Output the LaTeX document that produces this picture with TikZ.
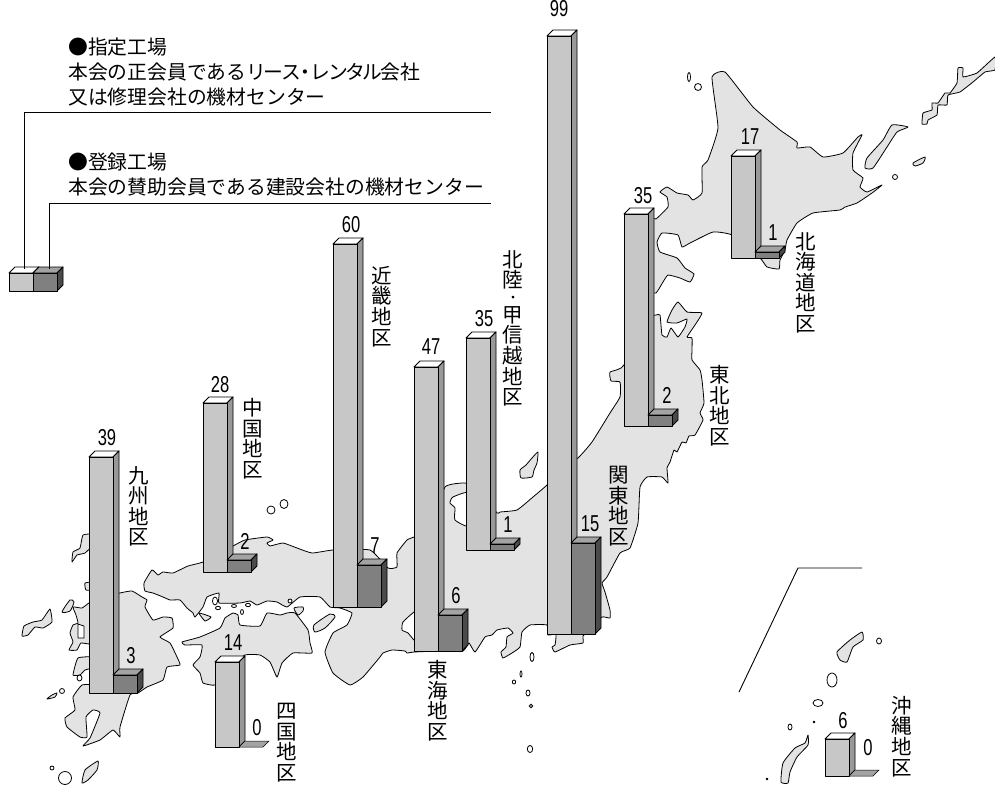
\documentclass[tikz,border=0pt]{standalone}
\usepackage{fontspec}
\newfontfamily\jpf{Noto Sans CJK JP}
\newfontfamily\numf[FakeStretch=0.72]{Liberation Sans}
\definecolor{land}{gray}{0.89}
\definecolor{lfront}{gray}{0.78}
\definecolor{lside}{gray}{0.6}
\definecolor{dfront}{gray}{0.5}
\definecolor{dside}{gray}{0.29}
\definecolor{dtop}{gray}{0.64}
\newcommand\tk{\hspace{-2.4pt}}
\tikzset{
  coast/.style={fill=land,draw=black,line width=0.8pt,line join=round},
  bay/.style={fill=white,draw=black,line width=0.8pt,line join=round},
  islet/.style={fill=white,draw=black,line width=0.8pt},
  barline/.style={draw=black,line width=0.9pt,line join=round},
  leader/.style={draw=black,line width=0.9pt},
  numlabel/.style={inner sep=0pt,font=\numf\fontsize{23}{24}\selectfont},
  vlabel/.style={inner sep=0pt,anchor=north,align=center,font=\jpf\fontsize{20.5}{20.6}\selectfont},
  legendtext/.style={inner sep=0pt,anchor=west,font=\jpf\fontsize{19.8}{24}\selectfont}
}
\newcommand\lightbar[3]{%
  \filldraw[barline,fill=white] (#1,#2) -- (#1+6,#2-6) -- (#1+30,#2-6) -- (#1+24,#2) -- cycle;
  \filldraw[barline,fill=lside] (#1+24,#2) -- (#1+30,#2-6) -- (#1+30,#3-6) -- (#1+24,#3) -- cycle;
  \filldraw[barline,fill=lfront] (#1,#2) rectangle (#1+24,#3);}
\newcommand\darkbar[3]{%
  \filldraw[barline,fill=dtop] (#1,#2) -- (#1+6,#2-6) -- (#1+30,#2-6) -- (#1+24,#2) -- cycle;
  \filldraw[barline,fill=dside] (#1+24,#2) -- (#1+30,#2-6) -- (#1+30,#3-6) -- (#1+24,#3) -- cycle;
  \filldraw[barline,fill=dfront] (#1,#2) rectangle (#1+24,#3);}
\newcommand\zerobar[2]{%
  \filldraw[draw=black,line width=0.5pt,fill=dtop] (#1,#2) -- (#1+6,#2-6) -- (#1+30,#2-6) -- (#1+24,#2) -- cycle;}
\begin{document}
\begin{tikzpicture}[x=1pt,y=-1pt]
\useasboundingbox (0,0) rectangle (995,786);
\fill[white] (0,0) rectangle (995,786);
% Honshu + Hokkaido
\draw[coast] plot[smooth cycle,tension=0.25] coordinates {
(144,583)(152,570)(158,575)(163,572)(173,573)(188,566)(203,562)(233,546)(245,540)(267,537)(273,540)(267,543)(270,546)(283,543)(297,548)(312,553)(333,550)(370,550)(388,568)(397,567)(397,553)(407,540)(414,537)(430,530)(445,487)(465,483)(480,490)(497,513)(500,512)(517,510)(533,497)(547,485)(560,470)(578,458)(592,442)(610,413)(620,397)(620,382)(611,381)(610,372)(624,365)(640,300)(650,220)
(656,219)(668,207)(667,197)(660,192)(667,187)(677,193)(688,195)(693,200)(702,193)(702,167)(708,160)(718,128)(712,77)(725,72)(753,107)(780,130)(797,142)(797,148)(810,147)(823,157)(843,153)(858,137)(862,135)(853,153)(853,170)(863,178)(860,187)(867,192)(882,185)(872,193)(857,203)(845,207)(840,210)(813,213)(797,223)(787,240)(785,250)(780,260)(779,269)(767,267)(760,258)(732,235)(713,232)(690,243)(682,247)(678,235)(662,233)(657,242)(660,252)(677,258)(685,268)(694,274)(690,282)(680,278)(668,275)(663,282)(656,293)(645,293)(645,315)(656,315)(660,315)(662,335)(667,337)(671,328)(678,337)(685,327)(687,319)(677,323)(667,322)(672,310)(678,302)(687,312)(702,313)(695,325)(687,337)(692,338)(692,350)(692,360)(700,370)(702,380)(704,403)(700,413)(703,420)(695,435)(689,436)(686,443)(682,442)(677,452)(674,450)(670,462)(667,468)(668,483)(662,477)(647,477)(640,487)(638,523)(630,548)(620,553)(607,577)(602,583)(605,592)(610,610)(610,618)(602,617)(590,630)(583,636)(583,643)(570,645)(555,652)(552,647)(555,645)(556,634)(548,635)(547,625)(530,625)(522,632)(520,647)(512,653)(503,658)(501,652)(506,647)(507,637)(513,633)(508,628)(497,630)(492,635)(485,637)(475,652)(469,643)(463,651)(440,651)(414,652)(407,653)(405,651)(392,650)(383,653)(380,657)(363,677)(350,685)(333,673)(325,652)(333,633)(347,625)(352,613)(340,608)(330,607)(320,597)(300,597)(287,607)(277,602)(267,601)(257,605)(250,601)(240,603)(219,603)(219,593)(207,597)(203,607)(195,617)(193,613)(187,608)(180,600)(170,600)(163,597)(153,593)(145,591)};
\draw[bay] plot[smooth cycle,tension=0.3] coordinates {(418,612)(414,612)(403,622)(402,630)(408,633)(414,640)(418,640)};
\draw[bay] plot[smooth cycle,tension=0.35] coordinates {(470,493)(453,497)(450,503)(455,508)(455,520)(470,526)};
% Awaji
\draw[coast] plot[smooth cycle,tension=0.4] coordinates {(314,625)(330,614)(335,617)(325,628)(315,632)};
% Shikoku
\draw[coast] plot[smooth cycle,tension=0.25] coordinates {(182,642)(200,637)(220,628)(225,618)(233,613)(238,615)(240,625)(260,626)(267,613)(280,615)(287,613)(295,613)(308,630)(310,643)(312,653)(293,653)(282,663)(277,677)(270,662)(260,655)(245,655)(225,670)(215,685)(203,683)(200,673)(193,665)(200,657)(202,645)(185,645)};
% Kyushu
\draw[coast] plot[smooth cycle,tension=0.25] coordinates {(120,593)(132,591)(142,597)(147,600)(145,607)(153,620)(163,617)(172,618)(173,628)(160,637)(170,643)(177,657)(180,665)(167,667)(163,680)(147,687)(138,693)(130,695)(120,727)(120,737)(113,730)(100,740)(83,746)(90,738)(100,713)(93,710)(86,717)(87,737)(80,737)(67,727)(65,718)(75,710)(73,697)(82,685)(100,680)(100,600)};
\draw[coast] plot[smooth cycle,tension=0.25] coordinates {(73,607)(82,608)(89,603)(95,603)(95,643)(81,643)(77,650)(69,650)(73,642)(70,633)(73,625)(78,623)(76,615)};
\draw[bay] (78,624) -- (84,626) -- (84,638) -- (78,638) -- cycle;
\draw[coast] plot[smooth cycle,tension=0.25] coordinates {(73,675)(78,658)(95,657)(95,667)(85,670)(80,675)};
\draw[coast] plot[smooth cycle,tension=0.25] coordinates {(72,562)(73,552)(80,548)(83,535)(95,534)(95,543)(85,553)(77,555)};
\draw[coast] plot[smooth cycle,tension=0.25] coordinates {(85,583)(95,582)(95,590)(86,590)};
\draw[coast] plot[smooth cycle,tension=0.4] coordinates {(62,612)(70,600)(74,602)(70,611)};
\draw[coast] plot[smooth cycle,tension=0.25] coordinates {(22,636)(24,626)(33,622)(42,620)(50,609)(52,622)(43,628)(35,627)(28,635)};
\draw[coast] plot[smooth cycle,tension=0.4] coordinates {(47,699)(52,695)(57,693)(55,697)};
\draw[coast] plot[smooth cycle,tension=0.3] coordinates {(82,783)(85,770)(98,761)(97,770)(88,780)};
\draw[islet] (79.5,678) ellipse (2.5 and 3);
\draw[islet] (62,691) circle (2.5);
\draw[islet] (52,768) circle (2);
\draw[islet] (65,778) ellipse (6.5 and 6.5);
% Setouchi and others
\draw[islet] (271,510) circle (4);
\draw[islet] (284,504) ellipse (4 and 4.5);
\draw[coast] plot[smooth cycle,tension=0.3] coordinates {(199,613)(211,617)(205,621)};
\draw[islet] (215,601) ellipse (2.5 and 4);
\draw[islet] (218,608) ellipse (2.5 and 1.7);
\draw[islet] (234,606) ellipse (2.5 and 1.5);
\draw[islet] (248,605) ellipse (2.5 and 1.7);
\draw[islet] (242,612) ellipse (1.5 and 2.5);
\draw[islet] (290,601) circle (2);
\draw[coast] plot[smooth cycle,tension=0.4] coordinates {(294,608)(303,607)(303,611)(298,615)};
% Sado
\draw[coast] plot[smooth cycle,tension=0.3] coordinates {(521,478)(520,470)(526,465)(532,458)(538,452)(537,463)(534,470)(532,477)};
% Izu
\draw[islet] (532,657) ellipse (2 and 4.5);
\draw[islet] (521,674) ellipse (1 and 3);
\draw[islet] (514,682) ellipse (1.7 and 2);
\draw[islet] (528,693) ellipse (2 and 3);
\draw[islet] (531,706) circle (1.8);
\draw[islet] (530,749) ellipse (2.7 and 3.5);
% Nansei
\draw[coast] plot[smooth cycle,tension=0.3] coordinates {(837,652)(850,640)(862,632)(863,640)(853,647)(847,662)(840,660)};
\draw[islet] (879,641) ellipse (2.5 and 3);
\draw[islet] (832,680) ellipse (5 and 7);
\draw[islet] (818,703) ellipse (5 and 3.5);
\draw[fill=black] (814,722) circle (1);
\draw[islet] (790,727) ellipse (2 and 3);
\draw[coast] plot[smooth cycle,tension=0.3] coordinates {(808,735)(808,745)(797,757)(790,772)(788,783)(781,782)(783,763)(795,748)(805,743)};
\draw[fill=black] (767,779) circle (1);
\draw[black,line width=0.9pt] (739,692) -- (798,568) -- (862,568);
% Northern islands
\draw[islet] (689,77) ellipse (1.5 and 4.5);
\draw[islet] (698,87) ellipse (3.5 and 3.5);
\draw[coast] plot[smooth cycle,tension=0.3] coordinates {(865,168)(867,158)(883,140)(892,125)(908,127)(897,132)(887,147)(873,168)};
\draw[coast] plot[smooth cycle,tension=0.2] coordinates {(922,124)(923,113)(932,110)(932,103)(938,103)(945,93)(950,93)(957,83)(958,68)(963,68)(963,77)(977,73)(995,57)(995,70)(985,72)(973,82)(960,92)(948,95)(947,105)(938,105)(937,115)(928,120)(927,124)};
\draw[coast] plot[smooth cycle,tension=0.4] coordinates {(913,163)(925,157)(923,163)(915,166)};
\draw[islet] (895,177) circle (2.5);
% Bars
\lightbar{89}{457}{693}\darkbar{113}{675}{693}
\lightbar{203}{403}{572}\darkbar{227}{560}{572}
\lightbar{333}{244}{607}\darkbar{357}{565}{607}
\lightbar{414}{367}{651}\darkbar{438}{615}{651}
\lightbar{466}{338}{550}\darkbar{490}{544}{550}
\lightbar{547}{36}{634}\darkbar{571}{543}{634}
\lightbar{624}{214}{426}\darkbar{648}{415}{426}
\lightbar{731}{156}{258}\darkbar{755}{252}{258}
\lightbar{215}{662}{747}\zerobar{239}{747}
\lightbar{825}{739}{776}\zerobar{849}{776}
% Legend
\lightbar{9}{273}{291}\darkbar{33}{273}{291}
\coordinate (l1) at (491,112);
\coordinate (l2) at (491,203);
\coordinate (b1) at (24.5,269);
\coordinate (b2) at (49,269);
\draw[leader] (l1) -| (b1);
\draw[leader] (l2) -| (b2);
\node[legendtext] (t1) at (68,47) {●指定工場};
\node[legendtext] (t2) at (68,72) {本会の正会員であるリ\tk ー\tk ス\hspace{-5pt}・\hspace{-5pt}レ\tk ン\tk タ\tk ル\tk 会社};
\node[legendtext] (t3) at (68,97) {又は修理会社の機材センター};
\node[legendtext] (t4) at (68,162) {●登録工場};
\node[legendtext] (t5) at (68,187) {本会の賛助会員である建設会社の機材センター};
% Numbers
\node[numlabel] (n1) at (559,9) {99};
\node[numlabel] (n2) at (107,438) {39};
\node[numlabel] (n3) at (131,656) {3};
\node[numlabel] (n4) at (220,385) {28};
\node[numlabel] (n5) at (245,541) {2};
\node[numlabel] (n6) at (351,225) {60};
\node[numlabel] (n7) at (375,546) {7};
\node[numlabel] (n8) at (233,643) {14};
\node[numlabel] (n9) at (257,728) {0};
\node[numlabel] (n10) at (431,347) {47};
\node[numlabel] (n11) at (456,596) {6};
\node[numlabel] (n12) at (484,319) {35};
\node[numlabel] (n13) at (508,525) {1};
\node[numlabel] (n14) at (590,524) {15};
\node[numlabel] (n15) at (643,196) {35};
\node[numlabel] (n16) at (667,395) {2};
\node[numlabel] (n17) at (750,137) {17};
\node[numlabel] (n18) at (773,233) {1};
\node[numlabel] (n19) at (843,721) {6};
\node[numlabel] (n20) at (868,748) {0};
% Region labels
\node[vlabel] (r1) at (139,466) {九\\州\\地\\区};
\node[vlabel] (r2) at (253,398) {中\\国\\地\\区};
\node[vlabel] (r3) at (382,266) {近\\畿\\地\\区};
\node[vlabel] (r4) at (513,250) {北\\陸\\[-5.9pt]{\fontsize{13}{13}\selectfont ・}\\[-0.7pt]甲\\信\\越\\地\\区};
\node[vlabel] (r5) at (438,660) {東\\海\\地\\区};
\node[vlabel] (r6) at (619,466) {関\\東\\地\\区};
\node[vlabel] (r7) at (720,365) {東\\北\\地\\区};
\node[vlabel] (r8) at (806,232) {北\\海\\道\\地\\区};
\node[vlabel] (r9) at (287,703) {四\\国\\地\\区};
\node[vlabel] (r10) at (902,696) {沖\\縄\\地\\区};
\end{tikzpicture}
\end{document}
